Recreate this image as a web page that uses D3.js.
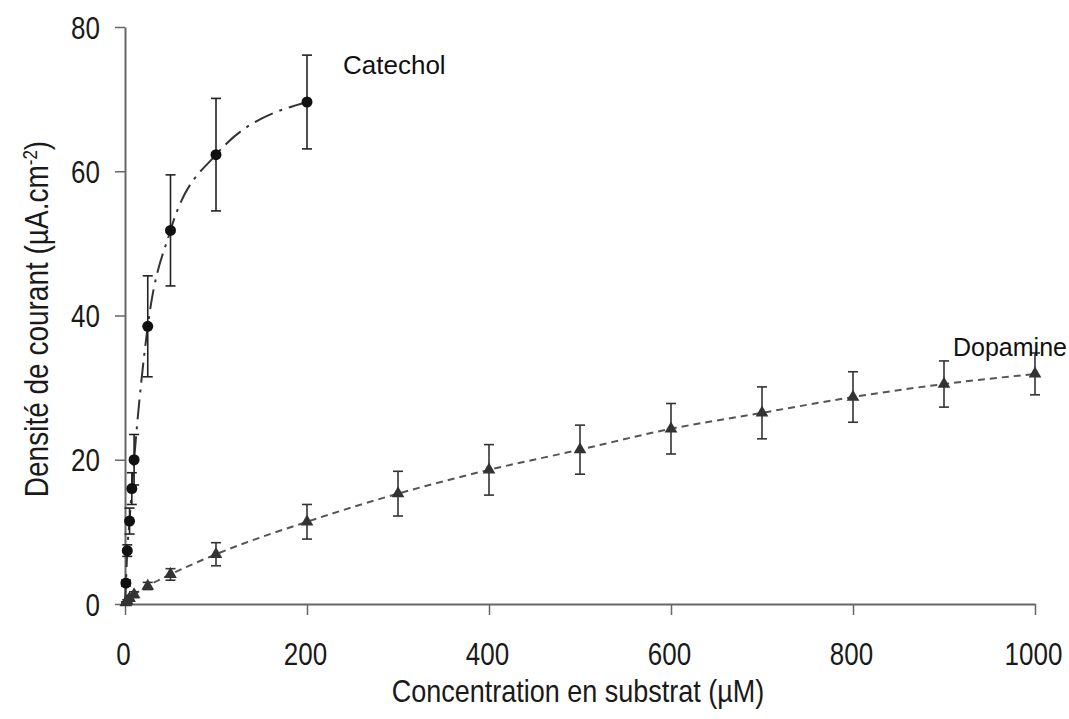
<!DOCTYPE html>
<html>
<head>
<meta charset="utf-8">
<script src="https://cdn.jsdelivr.net/npm/d3@7"></script>
<style>
  body { margin: 0; background: #fff; }
  svg { display: block; font-family: "Liberation Sans", Arial, sans-serif; }
</style>
</head>
<body>
<svg id="chart" width="1069" height="719"></svg>
<script>
// ---- data ----
const catecholConc = [1, 2.5, 5, 7.5, 10, 25, 50, 100, 200];
const catecholJ    = [2.9, 7.4, 11.5, 16.0, 20.0, 38.5, 51.8, 62.3, 69.6];
const catecholErr  = [0.4, 0.8, 1.8, 2.2, 3.5, 7.0, 7.7, 7.8, 6.5];

const dopamineConc = [1, 2.5, 5, 10, 25, 50, 100, 200, 300, 400, 500, 600, 700, 800, 900, 1000];
const dopamineJ    = [0.2, 0.4, 0.8, 1.3, 2.5, 4.1, 6.9, 11.4, 15.3, 18.6, 21.4, 24.3, 26.5, 28.7, 30.5, 31.9];
const dopamineErr  = [0.1, 0.2, 0.3, 0.4, 0.5, 0.8, 1.6, 2.4, 3.1, 3.5, 3.4, 3.5, 3.6, 3.5, 3.2, 2.9];

const xTicks = [0, 200, 400, 600, 800, 1000];
const yTicks = [0, 20, 40, 60, 80];

const xTitle = "Concentration en substrat (µM)";
const yTitleMain = "Densité de courant (µA.cm";
const yTitleSup = "-2";
const labelCatechol = "Catechol";
const labelDopamine = "Dopamine";

// ---- drawing ----
const svg = d3.select("#chart");
const x = d3.scaleLinear().domain([0, 1000]).range([125, 1035]);
const y = d3.scaleLinear().domain([0, 80]).range([604, 27]);

const axisColor = "#666";
const textColor = "#1a1a1a";
const stretch = 1.18; // scanned text looks vertically stretched

// X axis
const gx = svg.append("g").attr("transform", `translate(0,${y(0)})`)
  .call(d3.axisBottom(x).tickValues(xTicks).tickFormat(d3.format("d"))
    .tickSize(11).tickSizeOuter(0));
gx.select(".domain").attr("stroke", axisColor).attr("stroke-width", 2);
gx.selectAll(".tick line").attr("stroke", axisColor).attr("stroke-width", 1.5);
gx.selectAll(".tick text")
  .attr("font-size", 26).attr("fill", textColor)
  .attr("font-family", "'Liberation Sans', Arial, sans-serif")
  .attr("y", 0).attr("dy", 0)
  .attr("transform", `translate(-2,61) scale(1,${stretch})`);

// Y axis
const gy = svg.append("g").attr("transform", `translate(${x(0)},0)`)
  .call(d3.axisLeft(y).tickValues(yTicks).tickSize(10).tickSizeOuter(0));
gy.select(".domain").attr("stroke", axisColor).attr("stroke-width", 2);
gy.selectAll(".tick line").attr("stroke", axisColor).attr("stroke-width", 1.5);
gy.selectAll(".tick text")
  .attr("font-size", 26).attr("fill", textColor)
  .attr("font-family", "'Liberation Sans', Arial, sans-serif")
  .attr("x", 0).attr("dy", 0)
  .attr("transform", `translate(-25,11) scale(1,${stretch})`);

// Axis titles
svg.append("text")
  .attr("transform", `translate(578,702) scale(1,${stretch})`)
  .attr("text-anchor", "middle")
  .attr("font-size", 27).attr("fill", textColor)
  .text(xTitle);

const yt = svg.append("text")
  .attr("transform", `translate(48,319) scale(${stretch},1) rotate(-90)`)
  .attr("text-anchor", "middle")
  .attr("font-size", 28).attr("fill", textColor);
yt.append("tspan").text(yTitleMain);
yt.append("tspan").attr("baseline-shift", "super").attr("font-size", 17).text(yTitleSup);
yt.append("tspan").text(")");

// Series data
const cat = catecholConc.map((c, i) => ({ c, j: catecholJ[i], e: catecholErr[i] }));
const dop = dopamineConc.map((c, i) => ({ c, j: dopamineJ[i], e: dopamineErr[i] }));

const line = d3.line().x(d => x(d.c)).y(d => y(d.j)).curve(d3.curveMonotoneX);

// Dopamine line
svg.append("path")
  .datum([{ c: 0, j: 0 }].concat(dop))
  .attr("d", line)
  .attr("fill", "none")
  .attr("stroke", "#555")
  .attr("stroke-width", 2)
  .attr("stroke-dasharray", "7,5");

// Catechol line
svg.append("path")
  .datum([{ c: 0, j: 0 }].concat(cat))
  .attr("d", line)
  .attr("fill", "none")
  .attr("stroke", "#333")
  .attr("stroke-width", 2)
  .attr("stroke-dasharray", "20,7,3,7");

// Error bars
function errorBars(data, color) {
  const g = svg.append("g").attr("stroke", color).attr("stroke-width", 1.6);
  data.forEach(d => {
    const cx = x(d.c);
    const y1 = y(d.j + d.e), y2 = y(d.j - d.e);
    g.append("line").attr("x1", cx).attr("x2", cx).attr("y1", y1).attr("y2", y2);
    g.append("line").attr("x1", cx - 5).attr("x2", cx + 5).attr("y1", y1).attr("y2", y1);
    g.append("line").attr("x1", cx - 5).attr("x2", cx + 5).attr("y1", y2).attr("y2", y2);
  });
}
errorBars(dop, "#333");
errorBars(cat, "#222");

// Markers
svg.append("g").selectAll("path").data(dop).join("path")
  .attr("d", d3.symbol().type(d3.symbolTriangle).size(70))
  .attr("transform", d => `translate(${x(d.c)},${y(d.j)})`)
  .attr("fill", "#333");

svg.append("g").selectAll("circle").data(cat).join("circle")
  .attr("cx", d => x(d.c)).attr("cy", d => y(d.j)).attr("r", 5.5)
  .attr("fill", "#111");

// Series labels
svg.append("text").attr("x", 343).attr("y", 74)
  .attr("font-size", 26).attr("fill", "#111").text(labelCatechol);
svg.append("text").attr("x", 953).attr("y", 356)
  .attr("font-size", 25).attr("fill", "#111").text(labelDopamine);
</script>
</body>
</html>
